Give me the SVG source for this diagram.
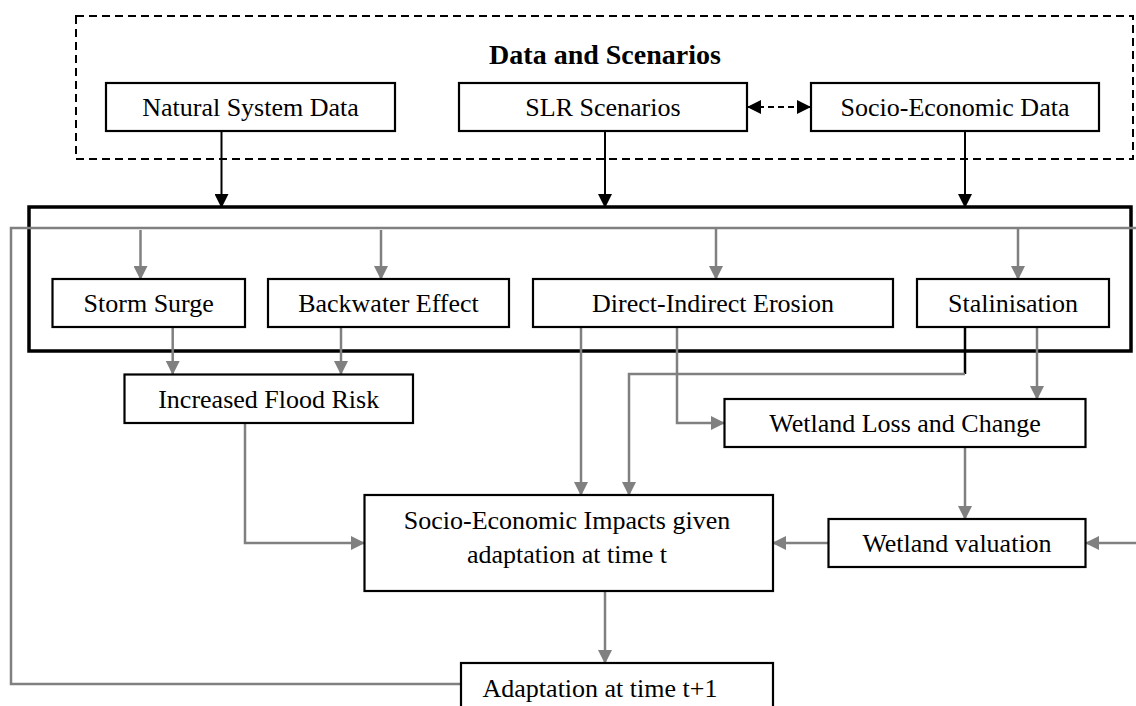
<svg xmlns="http://www.w3.org/2000/svg" width="1136" height="706" viewBox="0 0 1136 706">
  <defs>
    <marker id="ag" markerUnits="userSpaceOnUse" markerWidth="14" markerHeight="14" refX="13" refY="7" orient="auto">
      <path d="M0,0 L14,7 L0,14 z" fill="#808080"/>
    </marker>
    <marker id="ab" markerUnits="userSpaceOnUse" markerWidth="14" markerHeight="14" refX="13" refY="7" orient="auto-start-reverse">
      <path d="M0,0 L14,7 L0,14 z" fill="#000"/>
    </marker>
    <style>
      .box { fill: #fff; stroke: #000; stroke-width: 2.2; }
      .t { font-family: "Liberation Serif", "Times New Roman", serif; font-size: 26px; fill: #000; text-anchor: middle; }
      .tb { font-weight: bold; font-size: 28px; }
      .g { fill: none; stroke: #808080; stroke-width: 2.5; }
      .gk { fill: none; stroke: #808080; stroke-width: 2.5; marker-end: url(#ag); }
      .bk { fill: none; stroke: #000; stroke-width: 2; marker-end: url(#ab); }
    </style>
  </defs>
  <rect width="1136" height="706" fill="#fff"/>

  <g id="data-scenarios-group">
    <rect x="76" y="16" width="1057" height="143" fill="none" stroke="#000" stroke-width="2" stroke-dasharray="8,5"/>
    <text class="t tb" x="605" y="64">Data and Scenarios</text>
  </g>

  <g id="impacts-group">
    <rect x="29" y="207" width="1102" height="144" fill="none" stroke="#000" stroke-width="3.5"/>
  </g>

  <g id="connectors">
    <!-- black from data boxes -->
    <path class="bk" d="M221.5,131 V207"/>
    <path class="bk" d="M605,131 V207"/>
    <path class="bk" d="M965,131 V207"/>
    <path d="M748,107 H810" fill="none" stroke="#000" stroke-width="2" stroke-dasharray="6,4" marker-start="url(#ab)" marker-end="url(#ab)"/>
    <!-- feedback loop -->
    <path class="g" d="M461,684 H11 V228 H1136"/>
    <path class="gk" d="M140.5,230 V279"/>
    <path class="gk" d="M381,230 V279"/>
    <path class="gk" d="M716,229 V279"/>
    <path class="gk" d="M1018,229 V279"/>
    <!-- to flood -->
    <path class="gk" d="M172.7,327 V374"/>
    <path class="gk" d="M341,327 V374"/>
    <!-- erosion -->
    <path class="gk" d="M581,327 V495"/>
    <path class="gk" d="M677,327 V423 H724"/>
    <!-- stalinisation -->
    <path d="M965,327 V374" fill="none" stroke="#000" stroke-width="2.5"/>
    <path class="gk" d="M965,374 H629 V495"/>
    <path class="gk" d="M1037,327 V399"/>
    <!-- flood to SEI -->
    <path class="gk" d="M245,423 V543 H364"/>
    <!-- wetland -->
    <path class="gk" d="M965,447 V519"/>
    <path class="gk" d="M828,543 H773"/>
    <path class="gk" d="M1136,543 H1086"/>
    <!-- SEI to adaptation -->
    <path class="gk" d="M605,591 V663"/>
  </g>

  <g id="natural-system-data">
    <rect class="box" x="106" y="83" width="289" height="48"/>
    <text class="t" x="250.5" y="116">Natural System Data</text>
  </g>
  <g id="slr-scenarios">
    <rect class="box" x="459" y="83" width="288" height="48"/>
    <text class="t" x="603" y="116">SLR Scenarios</text>
  </g>
  <g id="socio-economic-data">
    <rect class="box" x="811" y="83" width="288" height="48"/>
    <text class="t" x="955" y="116">Socio-Economic Data</text>
  </g>

  <g id="storm-surge">
    <rect class="box" x="52.5" y="279" width="192.5" height="48"/>
    <text class="t" x="148.7" y="312">Storm Surge</text>
  </g>
  <g id="backwater-effect">
    <rect class="box" x="268" y="279" width="241" height="48"/>
    <text class="t" x="388.5" y="312">Backwater Effect</text>
  </g>
  <g id="direct-indirect-erosion">
    <rect class="box" x="533" y="279" width="360" height="48"/>
    <text class="t" x="713" y="312">Direct-Indirect Erosion</text>
  </g>
  <g id="stalinisation">
    <rect class="box" x="917" y="279" width="192" height="48"/>
    <text class="t" x="1013" y="312">Stalinisation</text>
  </g>

  <g id="increased-flood-risk">
    <rect class="box" x="124.5" y="374.5" width="288.5" height="48.5"/>
    <text class="t" x="268.7" y="407.5">Increased Flood Risk</text>
  </g>
  <g id="wetland-loss-change">
    <rect class="box" x="724.5" y="399" width="361" height="48"/>
    <text class="t" x="905" y="432">Wetland Loss and Change</text>
  </g>
  <g id="socio-economic-impacts">
    <rect class="box" x="364.5" y="495" width="408.5" height="96"/>
    <text class="t" x="567" y="529">Socio-Economic Impacts given</text>
    <text class="t" x="567" y="563">adaptation at time t</text>
  </g>
  <g id="wetland-valuation">
    <rect class="box" x="828.5" y="519" width="257" height="48"/>
    <text class="t" x="957" y="552">Wetland valuation</text>
  </g>
  <g id="adaptation">
    <rect class="box" x="461" y="663" width="312" height="60"/>
    <text class="t" x="600" y="697">Adaptation at time t+1</text>
  </g>
</svg>
